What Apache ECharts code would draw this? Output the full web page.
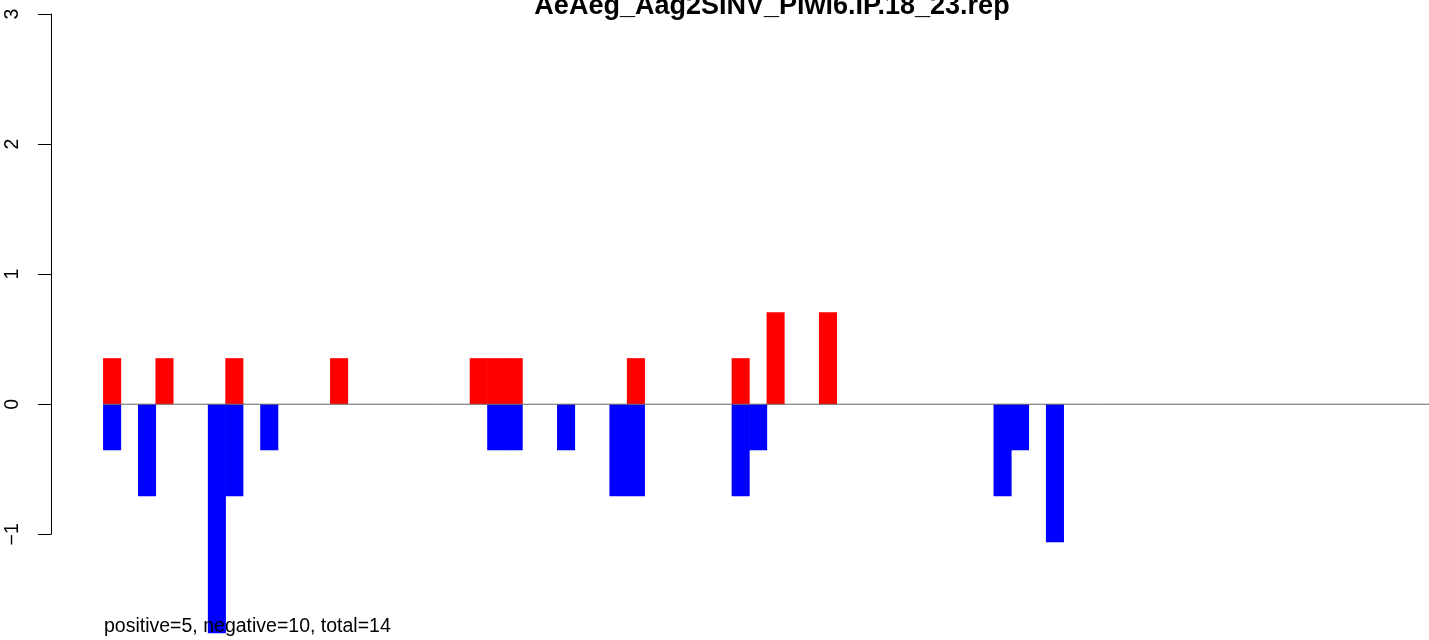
<!DOCTYPE html>
<html>
<head>
<meta charset="utf-8">
<script src="https://cdn.jsdelivr.net/npm/echarts@6/dist/echarts.min.js"></script>
<style>
	html, body { margin: 0; padding: 0; background: #fff; }
	#chart { width: 1429px; height: 640px; }
</style>
</head>
<body>
<div id="chart"></div>
<script>
	// bins counted from the first bar
	const titleText = "AeAeg_Aag2SINV_Piwi6.IP.18_23.rep";
	const noteText = "positive=5, negative=10, total=14";

	const redBins = [0, 3, 7, 13, 21, 22, 23, 30, 36, 38, 41];
	const redValues = [0.354, 0.354, 0.354, 0.354, 0.354, 0.354, 0.354, 0.354, 0.354, 0.707, 0.707];

	const blueBins = [0, 2, 6, 7, 9, 22, 23, 26, 29, 30, 36, 37, 51, 52, 54];
	const blueValues = [-0.354, -0.707, -1.76, -0.707, -0.354, -0.354, -0.354, -0.354, -0.707, -0.707, -0.707, -0.354, -0.707, -0.354, -1.061];

	const yTicks = [-1, 0, 1, 2, 3];

	const leadSlots = 3;
	const slotCount = 78;
	const slotPx = 17.46;

	const categories = [];
	for (let i = 0; i < slotCount; i++) categories.push(String(i - leadSlots));

	const fillSlots = (bins, values) => {
		const out = new Array(slotCount).fill(null);
		bins.forEach((b, i) => {
			out[b + leadSlots] = values[i];
		});
		return out;
	};

	const font = "Liberation Sans, Arial, Helvetica, sans-serif";
	const chart = echarts.init(document.getElementById("chart"), null, { renderer: "canvas" });

	const yRange = { min: yTicks[0], max: yTicks[yTicks.length - 1] };
	// a hair wider than the slot so neighbouring bars join without seams
	const barPx = slotPx + 0.6;

	chart.setOption({
		animation: false,
		backgroundColor: "#ffffff",
		title: [
			{
				text: titleText,
				left: 767,
				top: -12,
				textAlign: "center",
				textStyle: { fontFamily: font, fontSize: 27, fontWeight: "bold", color: "#000" },
			},
			{
				text: noteText,
				left: 104,
				top: 617,
				padding: 0,
				textStyle: { fontFamily: font, fontSize: 19.5, fontWeight: "normal", color: "#000" },
			},
		],
		grid: [
			{ left: 51, width: slotCount * slotPx, top: 14, bottom: 105.7, containLabel: false },
			// baseline runs from the first bar to the page edge
			{ left: 51 + leadSlots * slotPx, right: 0, top: 14, bottom: 105.7, containLabel: false },
		],
		xAxis: [
			{
				type: "category",
				gridIndex: 0,
				data: categories,
				boundaryGap: true,
				show: false,
			},
			{
				type: "value",
				gridIndex: 1,
				min: 0,
				max: 1,
				show: false,
			},
		],
		yAxis: [
			{
				type: "value",
				gridIndex: 0,
				...yRange,
				interval: 1,
				splitLine: { show: false },
				axisLine: { show: true, lineStyle: { color: "#000", width: 1 } },
				axisTick: { show: true, length: 13, lineStyle: { color: "#000", width: 1 } },
				axisLabel: {
					rotate: 90,
					margin: 28,
					color: "#000",
					fontFamily: font,
					fontSize: 19.5,
					formatter: (v) => (v < 0 ? "\u2212" + Math.abs(v) : String(v)),
				},
			},
			{
				type: "value",
				gridIndex: 1,
				...yRange,
				show: false,
				splitLine: { show: false },
			},
		],
		series: [
			{
				name: "positive",
				type: "bar",
				data: fillSlots(redBins, redValues),
				barWidth: barPx,
				barGap: "-100%",
				clip: false,
				itemStyle: { color: "#ff0000" },
			},
			{
				name: "negative",
				type: "bar",
				data: fillSlots(blueBins, blueValues),
				barWidth: barPx,
				barGap: "-100%",
				clip: false,
				itemStyle: { color: "#0000ff" },
			},
			{
				name: "baseline",
				type: "line",
				xAxisIndex: 1,
				yAxisIndex: 1,
				data: [[0, 0], [1, 0]],
				symbol: "none",
				silent: true,
				z: 5,
				lineStyle: { color: "#666666", width: 1 },
			},
		],
	});
</script>
</body>
</html>
